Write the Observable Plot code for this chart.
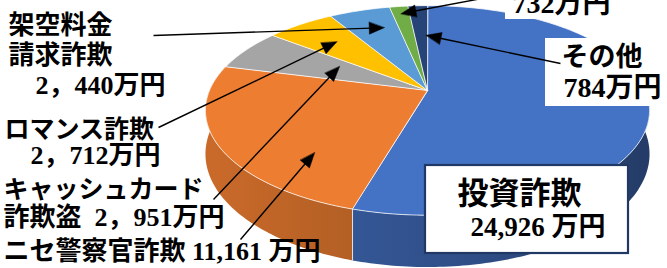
<!DOCTYPE html>
<html><head><meta charset="utf-8">
<script src="https://cdn.jsdelivr.net/npm/d3@7"></script>
<script src="https://cdn.jsdelivr.net/npm/@observablehq/plot@0.6"></script>
<style>body{margin:0;background:#fff;overflow:hidden}</style>
</head><body><div id="chart"></div>
<script>
// ---- data ----
const categories = ["投資詐欺", "ニセ警察官詐欺", "キャッシュカード詐欺盗", "ロマンス詐欺", "架空料金請求詐欺", "（上端で見切れ）", "その他"];
const values = [24926, 11161, 2951, 2712, 2440, 732, 784]; // 万円
const colors = ["#4472C4", "#ED7D31", "#A5A5A5", "#FFC000", "#5B9BD5", "#70AD47", "#264478"];
const labelLines = [
  ["投資詐欺", "24,926 万円"],
  ["ニセ警察官詐欺 11,161 万円"],
  ["キャッシュカード", "詐欺盗\u20022，951万円"],
  ["ロマンス詐欺", "2，712万円"],
  ["架空料金", "請求詐欺", "2，440万円"],
  ["732万円"],
  ["その他", "784万円"]
];

// ---- layout (positions only) ----
const CX = 427, CY = 90, A = 218, B = 101, P = 0.19, D = 42;
const labelPos = [
  [[457, 194, 31], [470, 227, 27]],
  [[3, 251, 26]],
  [[3, 189, 25], [3, 217, 26]],
  [[4, 129, 25], [30, 155, 26]],
  [[8, 25, 26], [8, 55, 26], [35, 85, 26]],
  [[512, 4, 28]],
  [[561, 57, 27], [563, 88, 28]]
];
const arrowCfg = [
  {i: 5, sx: 492, sy: -4, t: 0.5, r: 0.9},
  {i: 6, sx: 560, sy: 63, t: 0.9, r: 0.61},
  {i: 4, sx: 153, sy: 35, t: 0.7, r: 0.74},
  {i: 3, sx: 158, sy: 127, t: 0.55, r: 0.70},
  {i: 2, sx: 213, sy: 199, t: 0.7, r: 0.49},
  {i: 1, sx: 240, sy: 239, t: 0.27, r: 0.72}
];
const boxes = [
  {x1: 425, y1: 165, x2: 628, y2: 253, stroke: "#203864"},
  {x1: 545, y1: 38, x2: 668, y2: 106, stroke: "none"},
  {x1: 505, y1: -2, x2: 622, y2: 19, stroke: "none"}
];

// ---- geometry ----
function proj(theta, r = 1) {
  const u = r * Math.sin(theta), v = -r * Math.cos(theta);
  const s = 1 / (1 - P * v);
  return {x: CX + A * u * s, y: CY + B * v * s, s, u, v};
}
const arcs = d3.pie().sort(null).value(d => d)(values);
const step = Math.PI / 180;

const topRows = [];
const sideRows = [];
arcs.forEach((a, i) => {
  const n = Math.max(2, Math.ceil((a.endAngle - a.startAngle) / step));
  topRows.push({id: "t" + i, x: CX, y: CY, fill: colors[i]});
  const topPts = [], botPts = [];
  for (let k = 0; k <= n; k++) {
    const th = a.startAngle + (a.endAngle - a.startAngle) * k / n;
    const p = proj(th);
    topRows.push({id: "t" + i, x: p.x, y: p.y, fill: colors[i]});
    if (p.v > -0.25) { topPts.push([p.x, p.y]); botPts.push([p.x, p.y + D * p.s]); }
  }
  if (topPts.length > 1) {
    const pts = topPts.concat(botPts.reverse());
    pts.forEach(([x, y]) => sideRows.push({id: "s" + i, x, y, fill: `url(#side${i})`}));
  }
});
const edgeRows = arcs.map(a => proj(a.startAngle)).filter(p => p.v > P)
  .map(p => ({x1: p.x, y1: p.y, x2: p.x, y2: p.y + D * p.s}));

const arrowLines = [], arrowHeads = [];
arrowCfg.forEach((c, j) => {
  const a = arcs[c.i];
  const tip = proj(a.startAngle + (a.endAngle - a.startAngle) * c.t, c.r);
  const dx = tip.x - c.sx, dy = tip.y - c.sy, len = Math.hypot(dx, dy);
  const ux = dx / len, uy = dy / len, L = 15, W = 6;
  const bx = tip.x - ux * L, by = tip.y - uy * L;
  arrowLines.push({x1: c.sx, y1: c.sy, x2: bx + ux * 2, y2: by + uy * 2});
  arrowHeads.push({id: "h" + j, x: tip.x, y: tip.y});
  arrowHeads.push({id: "h" + j, x: bx - uy * W, y: by + ux * W});
  arrowHeads.push({id: "h" + j, x: bx + uy * W, y: by - ux * W});
});

const textRows = [];
labelLines.forEach((lines, i) => lines.forEach((t, k) => {
  const [x, y, fs] = labelPos[i][k];
  textRows.push({x, y, text: t, fs});
}));

const FONT = '"Liberation Serif", "Noto Sans CJK JP", serif';

// gradient defs for the side walls (shade darkens to the right)
const gradDefs = () => {
  const defs = d3.create("svg:defs");
  colors.forEach((c, i) => {
    const g = defs.append("linearGradient").attr("id", `side${i}`)
      .attr("gradientUnits", "userSpaceOnUse")
      .attr("x1", CX - A).attr("x2", CX + A).attr("y1", 0).attr("y2", 0);
    [[0, 0.45], [0.3, 0.75], [0.6, 1.05], [1, 1.8]].forEach(([o, k]) =>
      g.append("stop").attr("offset", o).attr("stop-color", d3.color(c).darker(k).formatHex()));
  });
  return defs.node();
};

const chart = Plot.plot({
  width: 667, height: 268, margin: 0,
  x: {domain: [0, 667], range: [0, 667], axis: null},
  y: {domain: [0, 268], range: [0, 268], axis: null},
  color: {type: "identity"},
  style: {background: "white", overflow: "hidden"},
  marks: [
    gradDefs,
    Plot.line(sideRows, {x: "x", y: "y", z: "id", fill: "fill", stroke: "none", curve: "linear-closed"}),
    Plot.line(topRows, {x: "x", y: "y", z: "id", fill: "fill", stroke: "white", strokeOpacity: 0.75, strokeWidth: 1, curve: "linear-closed"}),
    Plot.link(edgeRows, {x1: "x1", y1: "y1", x2: "x2", y2: "y2", stroke: "white", strokeOpacity: 0.75, strokeWidth: 1}),
    Plot.rect(boxes, {x1: "x1", y1: "y1", x2: "x2", y2: "y2", fill: "white", stroke: "stroke", strokeWidth: 2.2}),
    Plot.link(arrowLines, {x1: "x1", y1: "y1", x2: "x2", y2: "y2", stroke: "black", strokeWidth: 1.4}),
    Plot.line(arrowHeads, {x: "x", y: "y", z: "id", fill: "black", stroke: "black", strokeWidth: 0.5, curve: "linear-closed"}),
    Plot.text(textRows, {x: "x", y: "y", text: "text", fontSize: d => d.fs, textAnchor: "start", fill: "black",
      fontWeight: "bold", fontFamily: FONT})
  ]
});
document.getElementById("chart").appendChild(chart);
</script>
</body></html>
